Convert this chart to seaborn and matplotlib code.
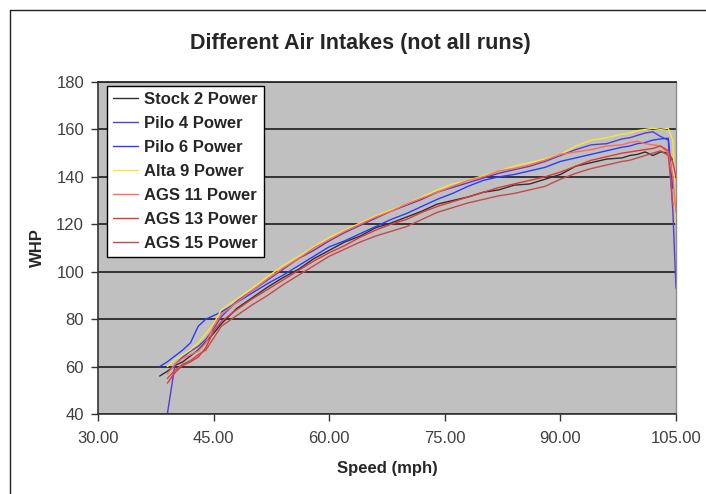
import numpy as np
import pandas as pd
import matplotlib
matplotlib.use("Agg")
import matplotlib.pyplot as plt
import seaborn as sns
from matplotlib.lines import Line2D

nan = np.nan

speed = [38, 39, 40, 41, 42, 43, 44, 45, 46, 48, 50, 52, 54, 56, 58, 60, 62, 64, 66, 68,
         70, 72, 74, 76, 78, 80, 82, 84, 86, 88, 90, 92, 94, 96, 98, 99, 100, 101, 102,
         103, 104, 104.6, 105]

stock2 = [56, 58, 60.5, 62, 64.5, 67, 70.5, 74, 78, 84.5, 89, 93.5, 97.5, 101, 105.5, 109,
          112.5, 115, 118.5, 120.5, 123, 125.5, 128.5, 130, 131.5, 133.5, 134.5, 136.5, 137,
          139, 141, 144.5, 146, 147.5, 148, 149, 149.5, 150.5, 149, 150.5, 150, 147, nan]
pilo4 = [nan, 40, 61, 64, 66.5, 68.5, 71.5, 76, 81, 87.5, 92, 96.5, 101, 105.5, 109, 113,
         116.5, 119.5, 122.5, 125.5, 128, 130.5, 133.5, 135.5, 137.5, 139.5, 141.5, 143,
         144.5, 146.5, 149, 151.5, 153.5, 154, 156, 156.5, 157.5, 158.5, 159, 157, 155.5,
         125, 93]
pilo6 = [60, 62, 64.5, 67, 70, 77, 80, 81.5, 83, 87, 91, 95, 98.5, 102.5, 106.5, 110.5, 113,
         116, 119, 122, 124.5, 127.5, 130.5, 133, 136, 138.5, 140, 141, 142.5, 144, 146.5,
         148, 149.5, 151, 152.5, 153, 154, 154.5, 155.5, 156, 156.3, 135, nan]
alta9 = [nan, 60, 63, 65, 67, 70, 74, 78, 84, 88.5, 93, 98, 102.5, 106.5, 110.5, 114.5,
         117.5, 120.5, 123.5, 126, 128.5, 131.5, 134.5, 137, 138.5, 140.5, 142.5, 144.5, 146,
         147.5, 149.5, 153, 155.5, 156.5, 158, 158.5, 159.5, 160, 160.5, 160, 160.5, 155, 120]
ags11 = [nan, 57, 61, 63.5, 65, 66.5, 70, 77, 82, 87, 92, 97, 101.5, 105.5, 110, 113.5, 117,
         120, 123, 125.5, 128.5, 131, 133.5, 136, 138.5, 140, 142.5, 143.5, 145, 147, 149.5,
         150.5, 151.5, 153, 153.5, 154.5, 155, 154, 153.5, 153, 150, 140, 125]
ags13 = [nan, 53, 57.5, 60.5, 62, 64, 68, 75, 79, 84, 88.5, 92.5, 96.5, 100.5, 104.5, 108,
         111, 114.5, 117.5, 120, 122, 125, 127.5, 129.5, 131.5, 133.5, 135.5, 137, 138.5, 140,
         142, 144.5, 147, 148.5, 150, 150.5, 151, 151.5, 152, 153, 151, 146, 140]
ags15 = [nan, 55, 58.5, 61, 62.5, 65, 67, 72, 77, 81.5, 86, 90, 94.5, 98.5, 102.5, 106.5,
         109.5, 112.5, 115, 117, 119, 122, 125, 127, 129, 130.5, 132, 133, 134.5, 136, 139,
         141.5, 143.5, 145, 146.5, 147, 148, 149, 150, 151, 149, 128, nan]

series_names = ["Stock 2 Power", "Pilo 4 Power", "Pilo 6 Power", "Alta 9 Power",
                "AGS 11 Power", "AGS 13 Power", "AGS 15 Power"]
series_values = [stock2, pilo4, pilo6, alta9, ags11, ags13, ags15]
colors = ["#303030", "#5a3ad0", "#2a3cff", "#f4e83a", "#ff6a5a", "#e03838", "#c44a4a"]

x_ticks = [30, 45, 60, 75, 90, 105]
y_ticks = [40, 60, 80, 100, 120, 140, 160, 180]

rows = []
for name, vals in zip(series_names, series_values):
    for s, v in zip(speed, vals):
        if not np.isnan(v):
            rows.append({"Speed": s, "WHP": v, "Series": name})
df = pd.DataFrame(rows)

sns.set_style("white")
plt.rcParams["font.family"] = ["Liberation Sans", "DejaVu Sans"]

fig = plt.figure(figsize=(7.06, 4.94), dpi=100)
fig.patch.set_facecolor("white")
ax = fig.add_axes([98 / 706, 1 - 414 / 494, 578 / 706, 332 / 494])
ax.set_facecolor("#c0c0c0")

sns.lineplot(data=df, x="Speed", y="WHP", hue="Series", hue_order=series_names,
             palette=colors, estimator=None, sort=True, linewidth=1.0, ax=ax, legend=True)

ax.set_xlim(30, 105)
ax.set_ylim(40, 180)
ax.set_xticks(x_ticks)
ax.set_xticklabels([f"{t:.2f}" for t in x_ticks])
ax.set_yticks(y_ticks)
ax.set_yticklabels([str(t) for t in y_ticks])
ax.tick_params(axis="both", direction="out", length=5, width=1, color="#333333",
               labelsize=12, labelcolor="#404040", left=True, bottom=True)
ax.tick_params(axis="x", pad=7)
ax.tick_params(axis="y", pad=5)
ax.yaxis.grid(True, color="#2a2a2a", linewidth=1.3)
ax.xaxis.grid(False)
ax.set_axisbelow(True)
for side in ["left", "bottom"]:
    ax.spines[side].set_color("#333333")
    ax.spines[side].set_linewidth(1.2)
ax.spines["top"].set_color("#2a2a2a")
ax.spines["top"].set_linewidth(1.3)
ax.spines["right"].set_color("#8c8c8c")
ax.spines["right"].set_linewidth(1.0)

ax.set_xlabel("Speed (mph)", fontsize=12, fontweight="bold", labelpad=11)
ax.set_ylabel("WHP", fontsize=12, fontweight="bold", labelpad=8)

fig.text(360 / 706, 1 - 44 / 494, "Different Air Intakes (not all runs)", ha="center",
         va="center", fontsize=15.5, fontweight="bold")

handles, labels = ax.get_legend_handles_labels()
ax.get_legend().remove()
leg = fig.legend(handles, labels, loc="upper left",
                 bbox_to_anchor=(107 / 706, 1 - 86 / 494), borderaxespad=0,
                 frameon=True, fancybox=False, framealpha=1, edgecolor="black",
                 prop={"weight": "bold", "size": 12}, handlelength=1.5,
                 handletextpad=0.4, labelspacing=0.54, borderpad=0.35)
leg.get_frame().set_linewidth(1.0)

fig.add_artist(Line2D([10 / 706, 10 / 706], [0, 1 - 10 / 494], transform=fig.transFigure,
                      color="#222222", linewidth=1.0))
fig.add_artist(Line2D([10 / 706, 1], [1 - 10 / 494, 1 - 10 / 494], transform=fig.transFigure,
                      color="#222222", linewidth=1.0))

fig.savefig("out.png", dpi=100, facecolor="white")
